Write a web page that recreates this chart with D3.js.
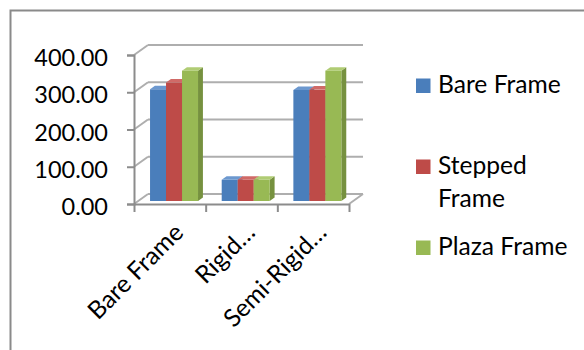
<!DOCTYPE html>
<html>
<head>
<meta charset="utf-8">
<script src="https://cdn.jsdelivr.net/npm/d3@7"></script>
<style>
  html, body { margin: 0; padding: 0; background: #fff; }
  svg { display: block; font-family: Lato, "Open Sans", sans-serif; }
</style>
</head>
<body>
<svg id="chart" width="584" height="350"></svg>
<script>
// Category labels along the floor of the 3D column chart
const categories = ["Bare Frame", "Rigid…", "Semi-Rigid…"];
// Series shown in the legend
const seriesNames = ["Bare Frame", "Stepped Frame", "Plaza Frame"];
// Values per category for each series
const bareFrame    = [300, 57, 298];
const steppedFrame = [318, 57, 299];
const plazaFrame   = [350, 57, 350];
// Value axis ticks
const yTicks = [0, 100, 200, 300, 400];

const seriesValues = [bareFrame, steppedFrame, plazaFrame];
const colors = {
  front: ["#4a7ebb", "#be4b48", "#98b954"],
  side:  ["#3a6292", "#943a38", "#76913f"],
  top:   ["#6c98cf", "#d06a67", "#b0cc74"]
};

const svg = d3.select("#chart");
const W = 584, H = 350;
svg.append("rect").attr("width", W).attr("height", H).attr("fill", "#fff");

// Chart area border (runs off the right and bottom edges)
svg.append("rect")
  .attr("x", 10.5).attr("y", 10.5)
  .attr("width", 640).attr("height", 420)
  .attr("fill", "none").attr("stroke", "#8a8a8a").attr("stroke-width", 2);

// Front plane of the plot and the depth vector of the 3D box
const front = { left: 134, right: 349, top: 55, bottom: 204 };
const depth = { dx: 14, dy: -10 };
const barDepth = { d0: 0.3, d1: 0.65 };

const x = d3.scaleBand().domain(categories).range([front.left, front.right]).padding(0);
const xs = d3.scaleBand().domain(d3.range(seriesNames.length))
  .range([0, x.bandwidth()]).paddingInner(0).paddingOuter(0.74);
const y = d3.scaleLinear().domain([0, 400]).range([front.bottom, front.top]);

const gridColor = "#aeaeae";
const axisColor = "#8c8c8c";
const labelSize = 24.6;

// Back wall gridlines and side wall diagonals
const grid = svg.append("g");
yTicks.forEach(t => {
  const yf = y(t), yb = y(t) + depth.dy;
  grid.append("line")
    .attr("x1", front.left + depth.dx).attr("y1", yb)
    .attr("x2", front.right + depth.dx).attr("y2", yb)
    .attr("stroke", gridColor).attr("stroke-width", 2);
  grid.append("line")
    .attr("x1", front.left).attr("y1", yf)
    .attr("x2", front.left + depth.dx).attr("y2", yb)
    .attr("stroke", gridColor).attr("stroke-width", 2);
});
// Floor right edge
grid.append("line")
  .attr("x1", front.right).attr("y1", y(0))
  .attr("x2", front.right + depth.dx).attr("y2", y(0) + depth.dy)
  .attr("stroke", gridColor).attr("stroke-width", 2);

// Columns: front, side and top faces
const bars = svg.append("g");
categories.forEach((cat, ci) => {
  seriesValues.forEach((vals, si) => {
    const v = vals[ci];
    const ox0 = barDepth.d0 * depth.dx, oy0 = barDepth.d0 * depth.dy;
    const ox1 = barDepth.d1 * depth.dx, oy1 = barDepth.d1 * depth.dy;
    const xl = x(cat) + xs(si) + ox0;
    const xr = xl + xs.bandwidth();
    const yb = y(0) + oy0;
    const yt = y(v) + oy0;
    const ddx = ox1 - ox0, ddy = oy1 - oy0;
    // side face
    bars.append("path")
      .attr("d", `M${xr},${yb}L${xr + ddx},${yb + ddy}L${xr + ddx},${yt + ddy}L${xr},${yt}Z`)
      .attr("fill", colors.side[si]);
    // front face
    bars.append("rect")
      .attr("x", xl).attr("y", yt)
      .attr("width", xs.bandwidth()).attr("height", yb - yt)
      .attr("fill", colors.front[si]);
    // top face
    bars.append("path")
      .attr("d", `M${xl},${yt}L${xl + ddx},${yt + ddy}L${xr + ddx},${yt + ddy}L${xr},${yt}Z`)
      .attr("fill", colors.top[si]);
  });
});

// Value axis on the front plane
const yAxis = svg.append("g")
  .attr("transform", `translate(${front.left},0)`)
  .call(d3.axisLeft(y).tickValues(yTicks).tickFormat(d3.format(".2f")).tickSize(7).tickPadding(19));
yAxis.select(".domain").attr("stroke", axisColor).attr("stroke-width", 2);
yAxis.selectAll(".tick line").attr("stroke", axisColor).attr("stroke-width", 2);
yAxis.selectAll(".tick text")
  .attr("font-size", 23.5).attr("fill", "#000")
  .attr("font-family", "Lato, sans-serif")
  .attr("dy", "0.45em");

// Category axis on the front floor edge, ticks between categories
const xEdge = d3.scaleLinear().domain([0, categories.length]).range([front.left, front.right]);
const xAxis = svg.append("g")
  .attr("transform", `translate(0,${front.bottom})`)
  .call(d3.axisBottom(xEdge).tickValues(d3.range(categories.length + 1)).tickFormat("").tickSize(8).tickSizeOuter(0));
xAxis.select(".domain").attr("stroke", axisColor).attr("stroke-width", 2);
xAxis.selectAll(".tick line").attr("stroke", axisColor).attr("stroke-width", 2);

// Rotated category labels
svg.append("g").selectAll("text")
  .data(categories)
  .join("text")
  .attr("transform", d => `translate(${x(d) + x.bandwidth() / 2 + 15},${front.bottom + 30}) rotate(-45)`)
  .attr("text-anchor", "end")
  .attr("font-size", labelSize)
  .attr("fill", "#000")
  .text(d => d);

// Legend
const legend = svg.append("g");
const legendX = 416, legendTextX = 438, maxLabelWidth = 140;
const legendBaselines = [93, 174, 255];
seriesNames.forEach((name, i) => {
  const base = legendBaselines[i];
  legend.append("rect")
    .attr("x", legendX).attr("y", base - 14.5)
    .attr("width", 14.5).attr("height", 14.5)
    .attr("fill", colors.front[i]);
  const t = legend.append("text")
    .attr("x", legendTextX).attr("y", base)
    .attr("font-size", labelSize).attr("fill", "#000");
  // wrap long labels onto extra lines
  const words = name.split(" ");
  let line = [], lineNo = 0;
  let tspan = t.append("tspan").attr("x", legendTextX).attr("y", base);
  words.forEach(w => {
    line.push(w);
    tspan.text(line.join(" "));
    if (tspan.node().getComputedTextLength() > maxLabelWidth && line.length > 1) {
      line.pop();
      tspan.text(line.join(" "));
      line = [w];
      lineNo++;
      tspan = t.append("tspan").attr("x", legendTextX).attr("y", base + lineNo * 33).text(w);
    }
  });
});
</script>
</body>
</html>
